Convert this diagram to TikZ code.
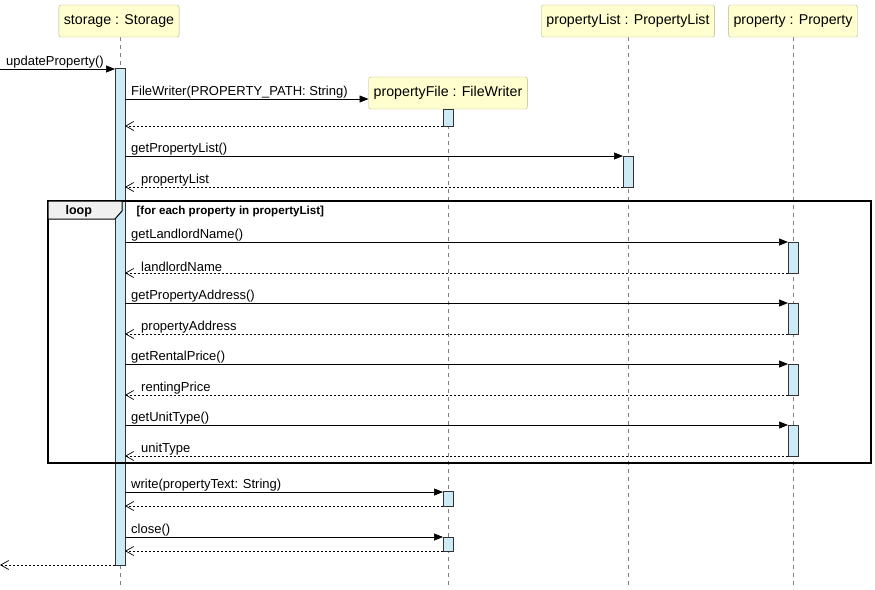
\documentclass[tikz,border=0pt]{standalone}
\usepackage{fontspec}
\setmainfont{Liberation Sans}
\usetikzlibrary{arrows.meta}
\definecolor{partfill}{HTML}{FEFECE}
\definecolor{partline}{HTML}{B5B38A}
\definecolor{actfill}{HTML}{CDEBF7}
\tikzset{
  part/.style={draw=partline,fill=partfill,rounded corners=2pt,inner sep=5pt,minimum height=32pt,font=\fontsize{14.2}{16}\selectfont},
  act/.style={draw=black!80,fill=actfill,line width=0.6pt},
  life/.style={draw=gray,dashed,dash pattern=on 4pt off 4pt,line width=0.6pt},
  call/.style={-{Triangle[length=9pt,width=7pt]},line width=0.7pt},
  ret/.style={-{Straight Barb[length=8pt,width=9pt]},dashed,dash pattern=on 2pt off 2pt,line width=0.7pt},
  lbl/.style={anchor=south west,inner sep=1pt,font=\fontsize{13}{15}\selectfont},
}
\begin{document}
\begin{tikzpicture}[x=1pt,y=-1pt]
\useasboundingbox (0,0) rectangle (875,589);
% lifelines
\draw[life] (120,37) -- (120,589);
\draw[life] (448,109) -- (448,589);
\draw[life] (628,37) -- (628,589);
\draw[life] (793,37) -- (793,589);
% participants
\node[part] (storage) at (119,21) {storage : Storage};
\node[part] (plist) at (628,21) {propertyList : PropertyList};
\node[part] (prop) at (793,21) {property : Property};
\node[part] (pfile) at (448,93) {propertyFile : FileWriter};
% activations
\draw[act] (115,68) rectangle (125,565);
\draw[act] (443,109) rectangle (453,126);
\draw[act] (623,156) rectangle (633,187);
\foreach \t/\b in {242/273,303/334,364/395,425/456}
  \draw[act] (788,\t) rectangle (798,\b);
\draw[act] (443,491) rectangle (453,506);
\draw[act] (443,537) rectangle (453,551);
% loop frame
\draw[line width=1.2pt] (48,201) rectangle (871,463);
\draw[line width=1pt,fill=gray!12] (48,201) -- (122,201) -- (122,211) -- (115,219) -- (48,219) -- cycle;
\node[anchor=west,font=\bfseries\fontsize{12.5}{14}\selectfont] (loopt) at (62,211) {loop};
\node[anchor=west,font=\bfseries\fontsize{11.6}{13}\selectfont] (guard) at (133,211) {[for each property in propertyList]};
% messages
\coordinate (in) at (0,69);
\draw[call] (in) -- (115,69);
\node[lbl] (m0) at (5,69) {updateProperty()};
\draw[call] (125,99) -- (pfile.west |- 0,99);
\node[lbl] (m1) at (130,99) {FileWriter(PROPERTY\_PATH: String)};
\draw[ret] (443,126) -- (125,126);
\draw[call] (125,156) -- (623,156);
\node[lbl] (m2) at (130,156) {getPropertyList()};
\draw[ret] (623,187) -- (125,187);
\node[lbl] (r2) at (140,187) {propertyList};
\foreach \t/\b/\m/\r in {242/273/getLandlordName()/landlordName,
                         303/334/getPropertyAddress()/propertyAddress,
                         364/395/getRentalPrice()/rentingPrice,
                         425/456/getUnitType()/unitType}{
  \draw[call] (125,\t) -- (788,\t);
  \node[lbl] at (130,\t) {\m};
  \draw[ret] (788,\b) -- (125,\b);
  \node[lbl] at (140,\b) {\r};
}
\draw[call] (125,492) -- (443,492);
\node[lbl] (m3) at (130,492) {write(propertyText: String)};
\draw[ret] (443,506) -- (125,506);
\draw[call] (125,537) -- (443,537);
\node[lbl] (m4) at (130,537) {close()};
\draw[ret] (443,551) -- (125,551);
\coordinate (out) at (0,565);
\draw[ret] (115,565) -- (out);
\end{tikzpicture}
\end{document}
